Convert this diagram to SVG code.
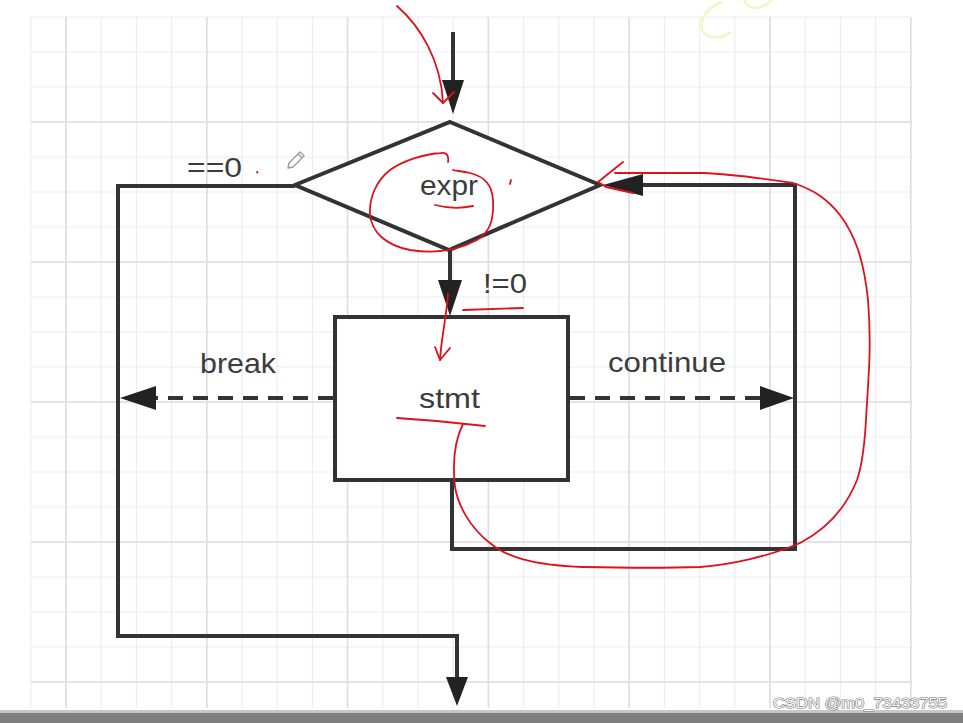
<svg xmlns="http://www.w3.org/2000/svg" width="963" height="723" viewBox="0 0 963 723">
<defs>
<style>
.gmin{stroke:#ededed;stroke-width:1.2;fill:none}
.gmaj{stroke:#dedede;stroke-width:1.6;fill:none}
.ln{stroke:#333;stroke-width:4;fill:none;stroke-linejoin:miter}
.dash{stroke:#333;stroke-width:4;fill:none;stroke-dasharray:15 10}
.head{fill:#222}
.shape{fill:#fff;stroke:#333;stroke-width:4}
.lbl{font-family:"Liberation Sans",Arial,sans-serif;font-size:28px;fill:#3c3c3c}
.red{stroke:#e0101c;stroke-width:1.8;fill:none;stroke-linecap:round;stroke-linejoin:round}
</style>
</defs>
<rect x="0" y="0" width="963" height="723" fill="#fff"/>
<g id="grid">
<path class="gmin" d="M30.8,17V708M66,17V708M101.2,17V708M136.4,17V708M171.6,17V708M206.8,17V708M242,17V708M277.2,17V708M312.4,17V708M347.6,17V708M382.8,17V708M418,17V708M453.2,17V708M488.4,17V708M523.6,17V708M558.8,17V708M594,17V708M629.2,17V708M664.4,17V708M699.6,17V708M734.8,17V708M770,17V708M805.2,17V708M840.4,17V708M875.6,17V708M910.8,17V708"/>
<path class="gmin" d="M31,17H911M31,52H911M31,87H911M31,122H911M31,157H911M31,192H911M31,227H911M31,262H911M31,297H911M31,332H911M31,367H911M31,402H911M31,437H911M31,472H911M31,507H911M31,542H911M31,577H911M31,612H911M31,647H911M31,682H911"/>
<path class="gmaj" d="M66,17V708M206.8,17V708M347.6,17V708M488.4,17V708M629.2,17V708M770,17V708M910.8,17V708M31,122H911M31,262H911M31,402H911M31,542H911M31,682H911"/>
</g>
<g id="watermark-top" fill="none" stroke="#f2f7c4" stroke-width="2.5">
<path d="M722,2 C706,8 698,22 703,32 C708,39 722,39 731,32"/>
<path d="M744,0 C747,9 760,12 772,0"/>
</g>
<g id="connectors">
<path class="ln" d="M453,32V82"/>
<polygon class="head" points="442,80 464,80 453,114"/>
<path class="ln" d="M295,186H118V636H457V680"/>
<polygon class="head" points="446,677 468,677 457,706"/>
<path class="ln" d="M450,250V282"/>
<polygon class="head" points="438,280 462,280 450,316"/>
<path class="dash" d="M333,398H150"/>
<polygon class="head" points="120,398 156,386 156,410"/>
<path class="dash" d="M570,398H765"/>
<polygon class="head" points="794,398 760,386 760,410"/>
<path class="ln" d="M452,480V549H795V185H640"/>
<polygon class="head" points="603,185 643,174 643,196"/>
</g>
<g id="decision">
<polygon class="shape" points="450,122 600,185 449,250 295,185"/>
<text class="lbl" x="420" y="195" textLength="58" lengthAdjust="spacingAndGlyphs">expr</text>
</g>
<g id="statement">
<rect class="shape" x="335" y="317" width="233" height="163"/>
<text class="lbl" x="419" y="408" textLength="61" lengthAdjust="spacingAndGlyphs">stmt</text>
</g>
<g id="labels">
<text class="lbl" x="187" y="177" textLength="55" lengthAdjust="spacingAndGlyphs">==0</text>
<text class="lbl" x="483" y="293" textLength="44" lengthAdjust="spacingAndGlyphs">!=0</text>
<text class="lbl" x="200" y="373" textLength="76" lengthAdjust="spacingAndGlyphs">break</text>
<text class="lbl" x="608" y="372" textLength="118" lengthAdjust="spacingAndGlyphs">continue</text>
</g>
<g id="pencil" fill="none" stroke="#9a9a9a" stroke-width="1.4" stroke-linejoin="round">
<path d="M288,168 L289,163 L300,152 L304,156 L293,167 Z M298,154 L302,158"/>
</g>
<g id="annotations">
<path class="red" d="M397,6 C420,26 441,60 443,103"/>
<path class="red" d="M433,93 L443,103 L454,92"/>
<path class="red" d="M448,162 C449,156 447,152 441,153 C425,154 404,160 390,170 C376,181 369,198 370,215 C372,232 385,245 410,250 C430,253 455,252 477,240 C490,232 494,220 493,200 C492,186 486,177 470,173 C462,171 456,171 453,170"/>
<path class="red" d="M435,205 Q454,210 473,206"/>
<path class="red" d="M511,180 L510,184"/>
<path class="red" d="M257,172 L257.5,172.5"/>
<path class="red" d="M463,310 L523,308"/>
<path class="red" d="M448,294 C446,320 441,340 440,360"/>
<path class="red" d="M435,347 L440,360 L450,348"/>
<path class="red" d="M397,418 C430,420 460,423 485,426"/>
<path class="red" d="M463,424 C455,440 452,460 455,487 C458,505 470,528 490,543 C505,556 530,565 583,567 C630,568 670,568 700,567 C730,565 770,556 800,543 C825,530 845,510 857,480 C864,460 865,435 866,420 C868,380 872,350 868,300 C864,260 855,235 840,215 C828,200 815,190 793,183 C760,178 730,174 703,173 C680,173 640,173 615,173"/>
<path class="red" d="M623,162 L598,182 L606,187 L633,193"/>
</g>
<g id="bottom">
<rect x="0" y="710" width="963" height="3" fill="#c8c8c8"/>
<rect x="0" y="713" width="963" height="10" fill="#7f7f7f"/>
<text x="773" y="708" font-family="Liberation Sans,Arial,sans-serif" font-size="15" fill="#f6f6f6" stroke="#7a7a7a" stroke-width="1.2" paint-order="stroke" textLength="174" lengthAdjust="spacingAndGlyphs">CSDN @m0_73433755</text>
</g>
</svg>
